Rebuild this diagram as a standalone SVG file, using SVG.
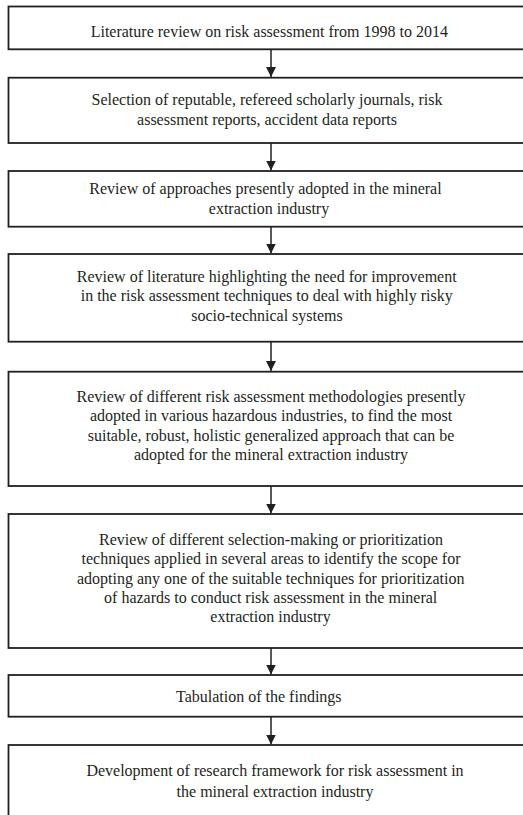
<svg xmlns="http://www.w3.org/2000/svg" width="523" height="815" viewBox="0 0 523 815">
<style>
.box{fill:#fff;stroke:#231f20;stroke-width:1.8}
.t{font-family:"Liberation Serif","Times New Roman",serif;font-size:16px;fill:#231f20;text-anchor:middle}
.c{stroke:#231f20;stroke-width:1.5;fill:none}
</style>
<defs>
<marker id="ah" viewBox="0 0 10 10" refX="10" refY="5" markerWidth="10" markerHeight="10" orient="auto" markerUnits="userSpaceOnUse">
<path d="M0,0 L10,5 L0,10 z" fill="#231f20"/>
</marker>
</defs>
<rect width="523" height="815" fill="#fff"/>
<g id="connectors">
<line class="c" x1="271" y1="49.5" x2="271" y2="77" marker-end="url(#ah)"/>
<line class="c" x1="271" y1="143" x2="271" y2="170.5" marker-end="url(#ah)"/>
<line class="c" x1="271" y1="226.7" x2="271" y2="253.5" marker-end="url(#ah)"/>
<line class="c" x1="271" y1="341.7" x2="271" y2="371" marker-end="url(#ah)"/>
<line class="c" x1="271" y1="486" x2="271" y2="513.5" marker-end="url(#ah)"/>
<line class="c" x1="271" y1="648" x2="271" y2="674.5" marker-end="url(#ah)"/>
<line class="c" x1="271" y1="716.7" x2="271" y2="744.5" marker-end="url(#ah)"/>
</g>
<g id="n1">
<rect class="box" x="8.5" y="6.5" width="526" height="42.8"/>
<text class="t" x="269.3" y="36.5">Literature review on risk assessment from 1998 to 2014</text>
</g>
<g id="n2">
<rect class="box" x="8.5" y="77.7" width="526" height="65.3"/>
<text class="t" x="267" y="105">Selection of reputable, refereed scholarly journals, risk</text>
<text class="t" x="267" y="125">assessment reports, accident data reports</text>
</g>
<g id="n3">
<rect class="box" x="8.5" y="171" width="526" height="55.7"/>
<text class="t" x="265.5" y="194">Review of approaches presently adopted in the mineral</text>
<text class="t" x="269" y="213.5">extraction industry</text>
</g>
<g id="n4">
<rect class="box" x="8.5" y="254" width="526" height="87.7"/>
<text class="t" x="266.7" y="281.7">Review of literature highlighting the need for improvement</text>
<text class="t" x="266.7" y="301.2">in the risk assessment techniques to deal with highly risky</text>
<text class="t" x="267" y="320.7">socio-technical systems</text>
</g>
<g id="n5">
<rect class="box" x="8.5" y="371.7" width="526" height="114.3"/>
<text class="t" x="271" y="401.5">Review of different risk assessment methodologies presently</text>
<text class="t" x="271" y="421">adopted in various hazardous industries, to find the most</text>
<text class="t" x="271" y="440.5">suitable, robust, holistic generalized approach that can be</text>
<text class="t" x="271" y="460">adopted for the mineral extraction industry</text>
</g>
<g id="n6">
<rect class="box" x="8.5" y="514" width="526" height="134"/>
<text class="t" x="271" y="545">Review of different selection-making or prioritization</text>
<text class="t" x="271" y="564.3">techniques applied in several areas to identify the scope for</text>
<text class="t" x="270.7" y="583.5">adopting any one of the suitable techniques for prioritization</text>
<text class="t" x="270.7" y="602.5">of hazards to conduct risk assessment in the mineral</text>
<text class="t" x="270.5" y="622">extraction industry</text>
</g>
<g id="n7">
<rect class="box" x="8.5" y="675" width="526" height="41.7"/>
<text class="t" x="258.8" y="701.5">Tabulation of the findings</text>
</g>
<g id="n8">
<rect class="box" x="8.5" y="745" width="526" height="90"/>
<text class="t" x="275" y="775.7">Development of research framework for risk assessment in</text>
<text class="t" x="275" y="796.7">the mineral extraction industry</text>
</g>
</svg>
